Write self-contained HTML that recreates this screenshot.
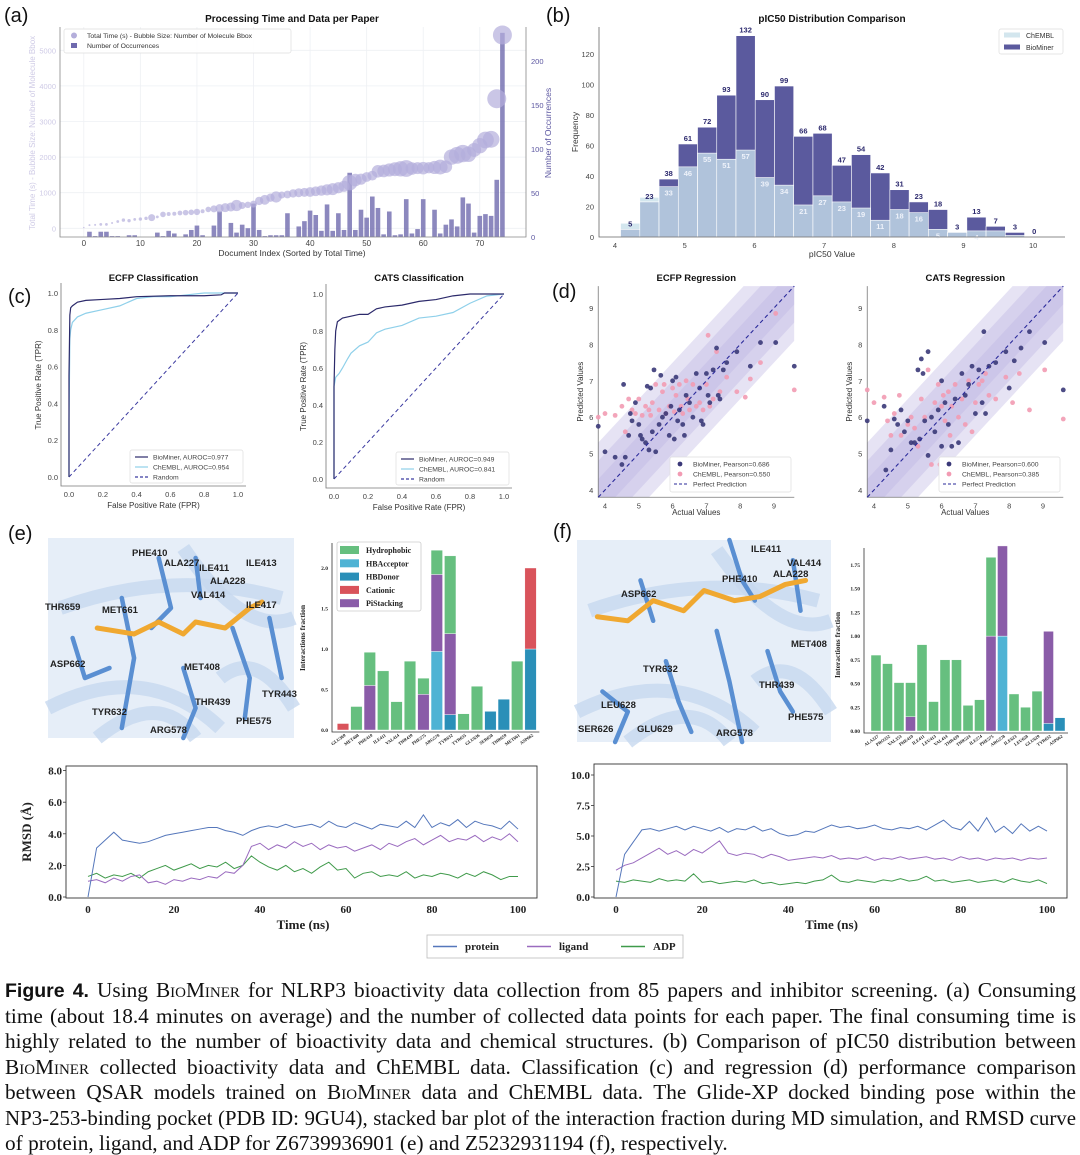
<!DOCTYPE html>
<html><head><meta charset="utf-8"><title>Figure 4</title>
<style>
html,body{margin:0;padding:0;background:#fff;}
#wrap{position:relative;width:1080px;height:1155px;overflow:hidden;}
svg{position:absolute;left:0;top:0;}
.cap{position:absolute;left:5px;width:1071px;font-family:"Liberation Serif",serif;font-size:21.3px;line-height:23px;color:#111;text-align:justify;text-align-last:justify;white-space:nowrap;}
.cap.last{text-align-last:left;}
.cap.tight{font-size:20.9px;}
.sc{font-variant:small-caps;}
.fb{font-family:"Liberation Sans",sans-serif;font-weight:bold;font-size:19.5px;}
</style></head>
<body>
<div id="wrap">
<svg id="fig" width="1080" height="1155" viewBox="0 0 1080 1155"></svg>
<div class="cap" style="top:979px"><span class="fb">Figure 4.</span> Using <span class="sc">BioMiner</span> for NLRP3 bioactivity data collection from 85 papers and inhibitor screening. (a) Consuming</div>
<div class="cap" style="top:1005px">time (about 18.4 minutes on average) and the number of collected data points for each paper. The final consuming time is</div>
<div class="cap" style="top:1030px">highly related to the number of bioactivity data and chemical structures. (b) Comparison of pIC50 distribution between</div>
<div class="cap" style="top:1056px"><span class="sc">BioMiner</span> collected bioactivity data and ChEMBL data. Classification (c) and regression (d) performance comparison</div>
<div class="cap" style="top:1081px">between QSAR models trained on <span class="sc">BioMiner</span> data and ChEMBL data. The Glide-XP docked binding pose within the</div>
<div class="cap tight" style="top:1107px">NP3-253-binding pocket (PDB ID: 9GU4), stacked bar plot of the interaction fraction during MD simulation, and RMSD curve</div>
<div class="cap last" style="top:1132px">of protein, ligand, and ADP for Z6739936901 (e) and Z5232931194 (f), respectively.</div>
</div>
<script>
// ---------- DATA ----------
const aTimes=[20,90,95,110,110,150,190,230,215,250,260,280,300,320,390,400,410,430,440,450,460,480,530,545,560,580,600,640,640,660,680,770,800,860,880,935,950,980,1000,1010,1020,1040,1060,1080,1100,1140,1180,1280,1355,1380,1440,1480,1600,1610,1640,1660,1670,1680,1680,1690,1690,1700,1710,1720,1730,2000,2050,2100,2080,2200,2320,2480,2500,3640,5430];
const aBubble=[0.7,1,1,1.4,1.4,1,1.4,1.7,1.7,1.4,1.7,1.7,3.5,1.4,2.8,2,2,2.4,2.8,2.8,3.2,2,2.8,3.5,4.2,4.5,4.5,5.6,3.5,3.2,3.5,4.2,4.9,4.2,5.6,3.5,3.9,4.2,4.5,4.5,4.9,4.9,5.2,5.6,6,5.6,5.6,7.7,6.3,5.6,4.9,4.9,6.3,6.3,6.6,7,7.7,8.4,6.3,6,6.3,5.6,6.6,7.4,6.3,7.7,8.4,8.7,7.7,7,7.7,8.4,8.4,9.5,9.5];
const aCounts=[0,6,1,6,6,1,1,0,2,2,0,0,0,5,1,7,4,0,3,8,13,2,0,13,29,0,16,5,14,10,38,8,1,2,2,2,27,0,12,18,30,25,7,37,7,27,8,73,8,31,22,46,33,3,29,2,3,43,4,9,43,0,31,4,14,20,12,45,38,5,24,26,24,65,232];
const aXTicks=[0,10,20,30,40,50,60,70];
const aLTicks=[0,1000,2000,3000,4000,5000];
const aRTicks=[0,50,100,150,200];

const bBio=[5,23,38,61,72,93,132,90,99,66,68,47,54,42,31,23,18,3,13,7,3,0];
const bChembl=[9,26,33,46,55,51,57,39,34,21,27,23,19,11,18,16,5,3,4,4,1,0];
const bXTicks=[4,5,6,7,8,9,10];
const bYTicks=[0,20,40,60,80,100,120];

const ecfpBioF=[0,0,0.005,0.01,0.02,0.05,0.1,0.2,0.3,0.4,0.6,0.8,0.9,0.92,1];
const ecfpBioT=[0,0.55,0.88,0.92,0.93,0.95,0.96,0.965,0.97,0.98,0.985,0.985,0.99,1,1];
const ecfpChF=[0,0,0.005,0.01,0.02,0.05,0.1,0.2,0.3,0.4,0.5,0.6,0.8,1];
const ecfpChT=[0,0.3,0.75,0.8,0.84,0.87,0.89,0.91,0.93,0.97,0.98,0.98,1,1];
const catsBioF=[0,0,0.005,0.01,0.02,0.05,0.1,0.15,0.2,0.25,0.3,0.4,0.5,0.6,0.7,0.8,1];
const catsBioT=[0,0.5,0.7,0.8,0.85,0.87,0.88,0.89,0.89,0.92,0.93,0.94,0.96,0.97,0.99,1,1];
const catsChF=[0,0,0.01,0.03,0.05,0.08,0.1,0.15,0.2,0.25,0.3,0.4,0.5,0.6,0.7,0.8,0.9,1];
const catsChT=[0,0.5,0.55,0.57,0.6,0.65,0.68,0.72,0.74,0.79,0.81,0.83,0.87,0.88,0.9,0.95,0.99,1];
const rocTicks=[0,0.2,0.4,0.6,0.8,1.0];

const ecfpBioX=[3.8,4.0,4.3,4.5,4.55,4.6,4.7,4.75,4.8,4.9,5.0,5.05,5.1,5.2,5.25,5.3,5.35,5.4,5.45,5.5,5.6,5.65,5.7,5.8,5.9,5.95,6.0,6.05,6.1,6.15,6.2,6.3,6.35,6.4,6.5,6.6,6.7,6.8,6.85,6.9,7.0,7.05,7.1,7.2,7.3,7.35,7.4,7.5,7.6,7.9,8.3,8.6,9.05,9.6];
const ecfpBioY=[5.75,5.05,4.9,4.7,6.9,4.9,5.5,6.1,5.9,6.4,5.8,5.5,5.4,5.3,6.85,5.1,6.8,5.6,7.3,5.05,5.8,7.15,6.0,6.1,5.5,6.3,7.0,5.4,7.1,5.9,6.2,5.8,5.5,6.6,6.4,6.0,7.2,6.8,5.9,5.8,7.2,6.6,6.4,7.3,7.9,6.6,6.5,7.3,7.5,7.8,7.4,8.05,8.05,7.4];
const ecfpChX=[3.8,4.0,4.3,4.5,4.6,4.7,4.8,4.9,5.0,5.1,5.2,5.3,5.35,5.4,5.5,5.6,5.7,5.75,5.8,5.9,6.0,6.05,6.1,6.2,6.25,6.3,6.4,6.45,6.5,6.6,6.7,6.8,6.9,7.0,7.05,7.1,7.2,7.3,7.4,7.6,7.9,8.15,8.3,8.6,9.05,9.6];
const ecfpChY=[6.0,6.1,6.05,6.3,5.6,6.5,6.2,6.1,6.5,6.05,6.3,6.2,6.05,6.4,6.9,6.2,6.7,6.9,6.1,6.3,6.8,6.15,6.6,6.9,6.3,6.1,7.0,6.5,6.2,6.9,6.3,6.4,6.2,6.9,8.25,6.3,6.5,7.8,6.7,7.1,6.7,6.55,7.05,7.5,8.85,6.75];
const catsBioX=[3.8,4.3,4.35,4.5,4.6,4.7,4.8,4.9,5.0,5.1,5.2,5.3,5.35,5.4,5.45,5.5,5.6,5.6,5.7,5.8,5.9,6.0,6.0,6.1,6.2,6.3,6.4,6.5,6.6,6.7,6.8,6.9,7.0,7.1,7.2,7.25,7.3,7.4,7.6,7.9,8.0,8.15,8.35,8.6,9.05,9.6];
const catsBioY=[5.9,6.3,4.55,5.1,5.95,5.8,6.2,5.6,5.9,5.3,5.3,7.3,5.4,7.6,7.2,5.9,7.8,4.95,6.0,5.6,6.2,7.0,5.2,6.4,5.8,5.2,6.5,5.3,7.2,6.6,6.9,7.4,6.1,7.3,6.4,8.35,6.1,7.4,7.5,7.8,6.8,7.55,7.9,8.35,8.05,6.75];
const catsChX=[3.8,4.0,4.3,4.4,4.5,4.6,4.75,4.8,5.0,5.1,5.2,5.3,5.4,5.5,5.6,5.7,5.8,5.9,5.95,6.0,6.05,6.1,6.2,6.25,6.3,6.4,6.5,6.6,6.7,6.8,6.9,7.0,7.1,7.2,7.3,7.4,7.6,7.9,8.1,8.3,8.6,9.05,9.6];
const catsChY=[6.75,6.4,6.55,5.9,5.5,6.1,6.6,5.5,5.8,6.0,5.7,5.2,6.5,6.0,7.3,4.7,6.4,6.9,4.7,6.3,6.6,5.9,6.7,5.5,6.3,6.9,6.0,6.5,5.8,7.0,5.6,6.4,6.9,7.0,7.2,6.6,6.5,7.1,6.4,7.2,6.2,7.3,5.95];
const regTicks=[4,5,6,7,8,9];

const eCats=['GLU369','MET408','PHE410','ILE411','VAL414','THR439','PHE575','ARG578','TYR632','TYR635','GLU636','SER658','THR659','MET661','ASP662'];
const eHBD=[0,0,0,0,0,0,0,0,0.19,0,0,0.23,0.38,0,1.0];
const eHBA=[0,0,0,0,0,0,0,0.97,0,0,0,0,0,0,0];
const ePi=[0,0,0.55,0,0,0,0.44,0.95,1.0,0,0,0,0,0,0];
const eCat=[0.08,0,0,0,0,0,0,0,0,0,0,0,0,0,1.0];
const eHyd=[0,0.29,0.41,0.73,0.35,0.85,0.2,0.3,0.96,0.2,0.54,0,0,0.85,0];
const eTicks=[0,0.5,1.0,1.5,2.0];

const fCats=['ALA227','PRO352','VAL353','PHE410','ILE411','LEU413','VAL414','THR439','THR524','ILE574','PHE575','ARG578','ILE623','LEU628','GLU629','TYR632','ASP662'];
const fHBD=[0,0,0,0,0,0,0,0,0,0,0,0,0,0,0,0.08,0.14];
const fHBA=[0,0,0,0,0,0,0,0,0,0,0,1.0,0,0,0,0,0];
const fPi=[0,0,0,0.15,0,0,0,0,0,0,1.0,0.95,0,0,0,0.97,0];
const fCat=[0,0,0,0,0,0,0,0,0,0,0,0,0,0,0,0,0];
const fHyd=[0.8,0.71,0.51,0.36,0.91,0.31,0.75,0.75,0.27,0.33,0.83,0,0.39,0.25,0.42,0,0];
const fTicks=[0,0.25,0.5,0.75,1.0,1.25,1.5,1.75];

const mdTime=[0,2,4,6,8,10,12,14,16,18,20,22,24,26,28,30,32,34,36,38,40,42,44,46,48,50,52,54,56,58,60,62,64,66,68,70,72,74,76,78,80,82,84,86,88,90,92,94,96,98,100];
const eProt=[0,3.1,3.6,4.1,3.6,3.5,3.4,3.5,3.7,3.9,4.0,4.1,4.2,4.3,4.4,4.4,4.2,4.1,3.9,4.2,4.4,4.5,4.4,4.6,4.4,4.5,4.6,4.4,4.8,4.5,4.4,4.7,4.5,4.3,4.6,4.5,4.4,4.8,4.4,5.2,4.4,4.7,4.5,4.9,4.4,4.8,4.6,4.5,4.3,4.8,4.3];
const eLig=[1.0,1.1,0.9,1.2,1.0,1.3,1.4,0.9,1.0,0.8,1.1,1.0,1.2,1.1,1.3,1.2,1.6,1.5,2.0,3.2,3.4,3.0,3.3,3.1,3.5,3.2,3.4,3.0,3.3,3.1,3.2,2.9,3.1,3.3,3.0,3.4,3.2,3.5,3.7,3.3,3.6,3.9,3.5,3.7,3.6,3.9,3.5,3.8,3.6,4.0,3.5];
const eAdp=[1.3,1.5,1.2,1.4,1.3,1.5,1.2,1.6,1.8,2.0,1.7,1.9,2.1,1.8,2.0,1.9,2.2,1.8,2.0,2.6,2.2,1.9,1.7,2.0,1.6,1.8,1.5,1.9,2.2,1.7,1.8,1.2,1.5,1.6,1.3,1.4,1.3,1.6,1.2,1.4,1.3,1.5,1.4,1.2,1.5,1.3,1.6,1.4,1.1,1.3,1.3];
const fProt=[0,3.5,4.5,5.5,5.6,5.4,5.6,5.8,5.5,5.8,5.6,5.4,5.7,5.3,5.6,5.5,5.8,5.4,5.6,5.2,5.0,5.1,5.4,5.3,5.6,5.9,5.7,5.8,5.6,5.7,5.9,5.6,5.5,5.7,5.6,5.8,5.5,5.9,6.3,5.7,5.5,6.2,5.4,6.5,5.3,5.8,5.2,6.0,5.4,5.8,5.4];
const fLig=[2.2,2.6,2.8,3.2,3.6,4.0,3.5,3.8,3.4,3.9,3.6,4.1,4.6,3.6,3.4,3.6,3.5,3.2,3.5,3.3,3.0,3.1,3.2,3.3,3.2,3.4,3.1,3.2,3.1,3.3,3.0,3.2,3.1,3.3,3.1,3.2,3.3,3.1,3.2,3.0,3.3,3.1,3.2,3.0,3.2,3.1,3.2,3.0,3.2,3.1,3.2];
const fAdp=[1.3,1.2,1.4,1.3,1.2,1.5,1.3,1.4,1.3,1.9,1.2,1.3,1.1,1.2,1.3,1.2,1.4,1.1,1.2,1.0,1.1,1.2,1.1,1.3,1.4,1.8,1.3,1.2,1.4,1.3,1.2,1.4,1.3,1.5,1.3,1.4,1.7,1.3,1.4,1.2,1.3,1.4,1.2,1.3,1.4,1.2,1.5,1.3,1.2,1.4,1.1];
const mdXTicks=[0,20,40,60,80,100];
const eYTicks=[0,2,4,6,8];
const fYTicks=[0,2.5,5,7.5,10];

// ---------- HELPERS ----------
const NS='http://www.w3.org/2000/svg';
const svg=document.getElementById('fig');
function mk(tag,attrs,parent){const e=document.createElementNS(NS,tag);for(const k in attrs)e.setAttribute(k,attrs[k]);(parent||svg).appendChild(e);return e;}
function tx(x,y,s,size,opts){const e=mk('text',Object.assign({x:x,y:y,'font-size':size,'font-family':'Liberation Sans, sans-serif',fill:'#333'},opts||{}));e.textContent=s;return e;}
function ln(x1,y1,x2,y2,stroke,w,extra){return mk('line',Object.assign({x1:x1,y1:y1,x2:x2,y2:y2,stroke:stroke,'stroke-width':w},extra||{}));}
const SERIF='Liberation Serif, serif';

[['(a)',4,22],['(b)',546,22],['(c)',8,303],['(d)',552,298],['(e)',8,540],['(f)',553,538]].forEach(p=>{
  const t=tx(p[1],p[2],p[0],20,{fill:'#111'});
  
  
});

// ---------- (a) ----------
const xA=i=>83.8+i*5.657, yL=v=>228.3-v*0.0356, yR=v=>237-v*0.88;
aXTicks.forEach(v=>{
  const g=ln(xA(v),27,xA(v),237,'#eef0f4',0.8);
  
  
  const t=tx(xA(v),246,String(v),8,{'text-anchor':'middle',fill:'#444'});
  
  
});
aLTicks.forEach(v=>{
  const g=ln(60,yL(v),526,yL(v),'#eef0f4',0.8);
  
  
  const t=tx(56,yL(v)+3,String(v),7.5,{'text-anchor':'end',fill:'#cfcbe6'});
  
  
});
aRTicks.forEach(v=>{
  const t=tx(531,yR(v)+3,String(v),7.5,{fill:'#5b56a0'});
  
  
});
aCounts.slice(0,aTimes.length).forEach((c,i)=>{
  if(c<=0)return;
  const r=mk('rect',{x:xA(i)-2.3,y:yR(c),width:4.6,height:237-yR(c),fill:'#6f6aae','fill-opacity':0.8});
  
  
});
aTimes.forEach((v,i)=>{
  const c=mk('circle',{cx:xA(i),cy:yL(v),r:aBubble[i]||5,fill:'#b4aedb','fill-opacity':0.7});
  
  
});
{
  const f=mk('path',{d:'M60,27 V237 H526 V27',fill:'none',stroke:'#888','stroke-width':0.8});
  
  
  const t=tx(292,22,'Processing Time and Data per Paper',10,{'text-anchor':'middle','font-weight':'bold',fill:'#111'});
  
  
  const xl=tx(292,256,'Document Index (Sorted by Total Time)',8.5,{'text-anchor':'middle',fill:'#333'});
  
  
  const yl=tx(0,0,'Total Time (s) - Bubble Size: Number of Molecule Bbox',8,{'text-anchor':'middle',fill:'#cfcbe6',transform:'translate(35,133) rotate(-90)'});
  
  
  const yr=tx(0,0,'Number of Occurrences',8.5,{'text-anchor':'middle',fill:'#5b56a0',transform:'translate(551,133) rotate(-90)'});
  
  
  const lb=mk('rect',{x:64,y:29,width:227,height:24,fill:'#fff','fill-opacity':0.9,stroke:'#ddd','stroke-width':0.7,rx:2});
  
  
  const lc=mk('circle',{cx:74,cy:35.5,r:3,fill:'#b4aedb'});
  
  
  const l1=tx(87,38,'Total Time (s) - Bubble Size: Number of Molecule Bbox',6.8,{fill:'#333'});
  
  
  const ls=mk('rect',{x:71,y:43,width:6,height:5,fill:'#6f6aae'});
  
  
  const l2=tx(87,48,'Number of Occurrences',6.8,{fill:'#333'});
  
  
}

// ---------- (b) ----------
const xB=v=>615+(v-4)*69.7, yB=v=>237-v*1.525, bW=0.276, bStart=4.08;
bYTicks.forEach(v=>{
  const t=tx(594,yB(v)+3,String(v),7.5,{'text-anchor':'end',fill:'#444'});
  
  
});
bXTicks.forEach(v=>{
  const t=tx(xB(v),248,String(v),7.5,{'text-anchor':'middle',fill:'#444'});
  
  
});
bBio.forEach((v,i)=>{
  const x0=xB(bStart+i*bW), w=bW*69.7, c=bChembl[i];
  const r=mk('rect',{x:x0,y:yB(v),width:w,height:237-yB(v),fill:'#5b5a9e',stroke:'#fff','stroke-width':0.6});
  
  
  const lo=Math.min(c,v);
  if(c>v){
    const r3=mk('rect',{x:x0,y:yB(c),width:w,height:yB(v)-yB(c),fill:'#d3e6ee',stroke:'#fff','stroke-width':0.6});
    
    
  }
  const r2=mk('rect',{x:x0,y:yB(lo),width:w,height:237-yB(lo),fill:'#b0c3db',stroke:'#fff','stroke-width':0.6});
  
  
  const t=tx(x0+w/2,yB(v)-3,String(v),7.5,{'text-anchor':'middle','font-weight':'bold',fill:'#2d2a6e'});
  
  
  if(c>0&&c<v-3){
    const t2=tx(x0+w/2,yB(c)+9,String(c),7.5,{'text-anchor':'middle','font-weight':'bold',fill:'#eef2fa'});
    
    
  }
});
{
  const f=mk('path',{d:'M599,27 V237 H1065',fill:'none',stroke:'#666','stroke-width':0.8});
  
  
  const t=tx(832,22,'pIC50 Distribution Comparison',10,{'text-anchor':'middle','font-weight':'bold',fill:'#111'});
  
  
  const xl=tx(832,257,'pIC50 Value',8.5,{'text-anchor':'middle'});
  
  
  const yl=tx(0,0,'Frequency',8.5,{'text-anchor':'middle',transform:'translate(578,132) rotate(-90)'});
  
  
  const lb=mk('rect',{x:999,y:29,width:64,height:25,fill:'#fff',stroke:'#ddd','stroke-width':0.7,rx:2});
  
  
  const s1=mk('rect',{x:1004,y:32.5,width:16,height:5,fill:'#d3e6ee'});
  
  
  const l1=tx(1026,38,'ChEMBL',7,{});
  
  
  const s2=mk('rect',{x:1004,y:44.5,width:16,height:5,fill:'#5b5a9e'});
  
  
  const l2=tx(1026,50,'BioMiner',7,{});
  
  
}

// ---------- (c) ROC ----------
function rocPanel(x0,x1,y0,y1,title,bioF,bioT,chF,chT,bioAuc,chAuc,lx,ly){
  const X=v=>x0+v*(x1-x0), Y=v=>y0-v*(y0-y1);
  const ax=mk('path',{d:`M${x0-8},${y1-10} V${y0+9} H${x1+8}`,fill:'none',stroke:'#777','stroke-width':0.8});
  
  
  rocTicks.forEach(v=>{
    const t=tx(X(v),y0+20,v.toFixed(1),7.5,{'text-anchor':'middle',fill:'#444'});
    
    
    const t2=tx(x0-11,Y(v)+3,v.toFixed(1),7.5,{'text-anchor':'end',fill:'#444'});
    
    
  });
  const rnd=ln(X(0),Y(0),X(1),Y(1),'#3b3aa0',1,{'stroke-dasharray':'4,3'});
  
  
  const pc=mk('polyline',{points:chF.map((f,i)=>X(f)+','+Y(chT[i])).join(' '),fill:'none',stroke:'#8fd0ea','stroke-width':1.2});
  
  
  const pb=mk('polyline',{points:bioF.map((f,i)=>X(f)+','+Y(bioT[i])).join(' '),fill:'none',stroke:'#2c2a6b','stroke-width':1.2});
  
  
  const tt=tx((x0+x1)/2,281,title,9.5,{'text-anchor':'middle','font-weight':'bold',fill:'#111'});
  
  
  const xl=tx((x0+x1)/2,y0+31,'False Positive Rate (FPR)',8,{'text-anchor':'middle'});
  
  
  const yl=tx(0,0,'True Positive Rate (TPR)',8,{'text-anchor':'middle',transform:`translate(${x0-28},${(y0+y1)/2}) rotate(-90)`});
  
  
  const lb=mk('rect',{x:lx,y:ly,width:113,height:33,fill:'#fff',stroke:'#ddd','stroke-width':0.7,rx:2});
  
  
  [['#2c2a6b','BioMiner, AUROC='+bioAuc,''],['#8fd0ea','ChEMBL, AUROC='+chAuc,''],['#3b3aa0','Random','3,2']].forEach((e,k)=>{
    const l=ln(lx+5,ly+7+k*10,lx+18,ly+7+k*10,e[0],1.2,e[2]?{'stroke-dasharray':e[2]}:{});
    
    
    const t=tx(lx+23,ly+9.5+k*10,e[1],6.8,{fill:'#444'});
    
    
  });
}
rocPanel(69,238,477,293,'ECFP Classification',ecfpBioF,ecfpBioT,ecfpChF,ecfpChT,'0.977','0.954',130,450);
rocPanel(334,504,479,294,'CATS Classification',catsBioF,catsBioT,catsChF,catsChT,'0.949','0.841',396,452);

// ---------- (d) regression ----------
function regPanel(x4,x9,title,bx,by,cx,cy,bp,cp,lx,ly){
  const sx=(x9-x4)/5, X=v=>x4+(v-4)*sx, Y=v=>490-(v-4)*36.4;
  const id='clip'+Math.round(x4);
  const cp2=mk('clipPath',{id:id});
  mk('rect',{x:X(3.8),y:Y(9.6),width:X(9.6)-X(3.8),height:Y(3.8)-Y(9.6)},cp2);
  [1.5,1.0,0.5].forEach(w=>{
    const p=mk('polygon',{points:`${X(3.8)},${Y(3.8+w)} ${X(9.6)},${Y(9.6+w)} ${X(9.6)},${Y(9.6-w)} ${X(3.8)},${Y(3.8-w)}`,fill:'#bcb6e2','fill-opacity':0.38,'clip-path':`url(#${id})`});
    
    
  });
  const ax=mk('path',{d:`M${X(3.8)},${Y(9.6)} V${Y(3.8)} H${X(9.6)}`,fill:'none',stroke:'#777','stroke-width':0.8});
  
  
  regTicks.forEach(v=>{
    const t=tx(X(v),Y(3.8)+11,String(v),7.5,{'text-anchor':'middle',fill:'#444'});
    
    
    const t2=tx(X(3.8)-5,Y(v)+3,String(v),7.5,{'text-anchor':'end',fill:'#444'});
    
    
  });
  cx.forEach((v,i)=>{
    const c=mk('circle',{cx:X(v),cy:Y(cy[i]),r:2.4,fill:'#f29bb3','fill-opacity':0.9});
    
    
  });
  bx.forEach((v,i)=>{
    const c=mk('circle',{cx:X(v),cy:Y(by[i]),r:2.4,fill:'#3a3878','fill-opacity':0.9});
    
    
  });
  const pl=ln(X(3.8),Y(3.8),X(9.6),Y(9.6),'#2a2a9a',1.1,{'stroke-dasharray':'4,3'});
  
  
  const tt=tx((X(3.8)+X(9.6))/2,281,title,9.5,{'text-anchor':'middle','font-weight':'bold',fill:'#111'});
  
  
  const xl=tx((X(3.8)+X(9.6))/2,515,'Actual Values',8,{'text-anchor':'middle'});
  
  
  const yl=tx(0,0,'Predicted Values',8,{'text-anchor':'middle',transform:`translate(${X(3.8)-15},${Y(6.7)}) rotate(-90)`});
  
  
  const lb=mk('rect',{x:lx,y:ly,width:121,height:35,fill:'#fff',stroke:'#ddd','stroke-width':0.7,rx:2});
  
  
  const c1=mk('circle',{cx:lx+10,cy:ly+7,r:2.4,fill:'#3a3878'});
  
  
  const t1=tx(lx+23,ly+9.5,'BioMiner, Pearson='+bp,6.8,{fill:'#444'});
  
  
  const c2=mk('circle',{cx:lx+10,cy:ly+17,r:2.4,fill:'#f29bb3'});
  
  
  const t2=tx(lx+23,ly+19.5,'ChEMBL, Pearson='+cp,6.8,{fill:'#444'});
  
  
  const l3=ln(lx+4,ly+27,lx+17,ly+27,'#2a2a9a',1.1,{'stroke-dasharray':'3,2'});
  
  
  const t3=tx(lx+23,ly+29.5,'Perfect Prediction',6.8,{fill:'#444'});
  
  
}
regPanel(605,774,'ECFP Regression',ecfpBioX,ecfpBioY,ecfpChX,ecfpChY,'0.686','0.550',670,457);
regPanel(874,1043,'CATS Regression',catsBioX,catsBioY,catsChX,catsChY,'0.600','0.385',939,457);

// ---------- molecule pose images ----------
function pose(x,y,w,h,sticks,lig,labels){
  const bg=mk('rect',{x:x,y:y,width:w,height:h,fill:'#e6eef8'});
  
  
  [[0.05,0.35,0.5,0.15,0.95,0.3],[0.0,0.85,0.4,0.6,0.7,0.95],[0.55,0.05,0.8,0.5,1.0,0.4],[0.2,1.0,0.45,0.75,0.6,1.0],[0.7,0.7,0.85,0.55,1.0,0.85]].forEach(c=>{
    const p=mk('path',{d:`M${x+c[0]*w},${y+c[1]*h} Q${x+c[2]*w},${y+c[3]*h} ${x+c[4]*w},${y+c[5]*h}`,fill:'none',stroke:'#c7d8ef','stroke-width':14,'stroke-opacity':0.8});
    
    
  });
  sticks.forEach(s=>{
    const p=mk('polyline',{points:s.map((v,i)=>(i%2?y+v*h:x+v*w)).reduce((a,v,i)=>a+(i%2?','+v:' '+v),''),fill:'none',stroke:'#5a8fd2','stroke-width':4.5,'stroke-linecap':'round','stroke-linejoin':'round'});
    
    
  });
  const lp=mk('polyline',{points:lig.map((v,i)=>(i%2?y+v*h:x+v*w)).reduce((a,v,i)=>a+(i%2?','+v:' '+v),''),fill:'none',stroke:'#f0a830','stroke-width':5,'stroke-linecap':'round','stroke-linejoin':'round'});
  
  
  labels.forEach(l=>{
    const t=tx(l[1],l[2]+4,l[0],9.5,{'font-weight':'bold',fill:'#222'});
    
    
  });
}
pose(48,538,246,200,
 [[0.3,0.3,0.35,0.6,0.3,0.95],[0.45,0.1,0.5,0.35,0.42,0.45],[0.55,0.65,0.6,0.85,0.55,1.0],[0.75,0.45,0.82,0.7,0.8,0.9],[0.1,0.5,0.15,0.7,0.25,0.65],[0.6,0.1,0.62,0.3],[0.9,0.4,0.95,0.7]],
 [0.2,0.45,0.35,0.48,0.45,0.42,0.55,0.48,0.6,0.42,0.72,0.45,0.82,0.35,0.87,0.32],
 [['PHE410',132,552],['ALA227',164,562],['ILE411',199,567],['ILE413',246,562],['ALA228',210,580],['VAL414',191,594],['ILE417',246,604],['THR659',45,606],['MET661',102,609],['ASP662',50,663],['MET408',184,666],['THR439',195,701],['TYR443',262,693],['TYR632',92,711],['ARG578',150,729],['PHE575',236,720]]);
pose(577,540,254,202,
 [[0.1,0.75,0.2,0.85,0.15,1.0],[0.35,0.6,0.4,0.8,0.45,0.95],[0.55,0.45,0.6,0.7,0.65,1.0],[0.75,0.55,0.8,0.75,0.85,0.85],[0.25,0.2,0.3,0.4],[0.6,0.0,0.65,0.2,0.7,0.3],[0.85,0.1,0.88,0.35]],
 [0.08,0.38,0.2,0.4,0.3,0.3,0.42,0.35,0.5,0.25,0.62,0.3,0.72,0.28,0.82,0.22,0.9,0.2],
 [['ILE411',751,548],['VAL414',787,562],['PHE410',722,578],['ALA228',773,573],['ASP662',621,593],['MET408',791,643],['TYR632',643,668],['THR439',759,684],['LEU628',601,704],['PHE575',788,716],['SER626',578,728],['GLU629',637,728],['ARG578',716,732]]);

// ---------- interaction bars ----------
const iColors={hbd:'#2a8fb8',hba:'#4fb3d4',pi:'#8a5ca8',cat:'#d9535b',hyd:'#66bf7f'};
function ibars(x0,step,bw,y0,scale,spineX,cats,HBD,HBA,PI,CAT,HYD,ticks,dec,topY){
  const Y=v=>y0-v*scale;
  const ax=mk('path',{d:`M${spineX},${topY} V${y0+2} H${x0+step*(cats.length-1)+bw/2+3}`,fill:'none',stroke:'#333','stroke-width':0.8});
  
  
  ticks.forEach(v=>{
    const t=tx(spineX-4,Y(v)+2,v.toFixed(dec),5.5,{'text-anchor':'end','font-family':SERIF,'font-weight':'bold',fill:'#222'});
    
    
  });
  cats.forEach((c,i)=>{
    const cx=x0+i*step;
    let acc=0;
    [[HBD[i],iColors.hbd],[HBA[i],iColors.hba],[PI[i],iColors.pi],[CAT[i],iColors.cat],[HYD[i],iColors.hyd]].forEach(s=>{
      if(s[0]<=0)return;
      const r=mk('rect',{x:cx-bw/2,y:Y(acc+s[0]),width:bw,height:s[0]*scale,fill:s[1],stroke:'#fff','stroke-width':0.4});
      
      
      acc+=s[0];
    });
    const t=tx(0,0,c,4.5,{'text-anchor':'end','font-family':SERIF,'font-weight':'bold',fill:'#222',transform:`translate(${cx+3},${y0+6}) rotate(-35)`});
    
    
  });
}
ibars(343,13.4,11.5,730,81,332,eCats,eHBD,eHBA,ePi,eCat,eHyd,eTicks,1,543);
ibars(876,11.5,10,731,94.9,864,fCats,fHBD,fHBA,fPi,fCat,fHyd,fTicks,2,548);
{
  const y1=tx(0,0,'Interactions fraction',7.5,{'text-anchor':'middle','font-family':SERIF,'font-weight':'bold',fill:'#222',transform:'translate(305,638) rotate(-90)'});
  
  
  const y2=tx(0,0,'Interactions fraction',7.5,{'text-anchor':'middle','font-family':SERIF,'font-weight':'bold',fill:'#222',transform:'translate(840,645) rotate(-90)'});
  
  
  const lb=mk('rect',{x:337,y:542,width:84,height:69,fill:'#fff',stroke:'#ccc','stroke-width':0.8,rx:2});
  
  
  [['Hydrophobic',iColors.hyd],['HBAcceptor',iColors.hba],['HBDonor',iColors.hbd],['Cationic',iColors.cat],['PiStacking',iColors.pi]].forEach((e,k)=>{
    const s=mk('rect',{x:340,y:546+k*13.3,width:19,height:8,fill:e[1]});
    
    
    const t=tx(366,553+k*13.3,e[0],8,{'font-family':SERIF,'font-weight':'bold',fill:'#222'});
    
    
  });
}

// ---------- RMSD ----------
function rmsd(fx0,fx1,ftop,x0,x100,y0,scale,prot,lig,adp,yt,dec,ylabel){
  const X=t=>x0+t*(x100-x0)/100, Y=v=>y0-v*scale;
  const fr=mk('rect',{x:fx0,y:ftop,width:fx1-fx0,height:y0-ftop+1,fill:'none',stroke:'#333','stroke-width':0.9});
  
  
  yt.forEach(v=>{
    const t=tx(fx0-4,Y(v)+4,v.toFixed(1),11,{'text-anchor':'end','font-family':SERIF,'font-weight':'bold',fill:'#222'});
    
    
    const k=ln(fx0-3,Y(v),fx0,Y(v),'#333',0.8);
    
    
  });
  mdXTicks.forEach(v=>{
    const t=tx(X(v),y0+16,String(v),11,{'text-anchor':'middle','font-family':SERIF,'font-weight':'bold',fill:'#222'});
    
    
  });
  [[adp,'#3f9a4a','rmsd-adp-line'],[lig,'#9a6bbf','rmsd-ligand-line'],[prot,'#5577bb','rmsd-protein-line']].forEach(s=>{
    const p=mk('polyline',{points:mdTime.map((t,i)=>X(t)+','+Y(s[0][i])).join(' '),fill:'none',stroke:s[1],'stroke-width':1});
    
    
  });
  const xl=tx((x0+x100)/2,929,'Time (ns)',13,{'text-anchor':'middle','font-family':SERIF,'font-weight':'bold',fill:'#222'});
  
  
  if(ylabel){
    const yl=tx(0,0,'RMSD (Å)',13,{'text-anchor':'middle','font-family':SERIF,'font-weight':'bold',fill:'#222',transform:'translate(31,832) rotate(-90)'});
    
    
  }
}
rmsd(66,537,766,88,518,897,15.8,eProt,eLig,eAdp,eYTicks,1,true);
rmsd(594,1067,764,616,1047,897,12.2,fProt,fLig,fAdp,fYTicks,1,false);
{
  const lb=mk('rect',{x:427,y:935,width:256,height:23,fill:'#fff',stroke:'#bbb','stroke-width':0.8});
  
  
  [['protein','#5577bb',433],['ligand','#9a6bbf',527],['ADP','#3f9a4a',621]].forEach(e=>{
    const l=ln(e[2],946.5,e[2]+24,946.5,e[1],1.5);
    
    
    const t=tx(e[2]+32,950,e[0],11,{'font-family':SERIF,'font-weight':'bold',fill:'#222'});
    
    
  });
}
</script>
</body></html>
